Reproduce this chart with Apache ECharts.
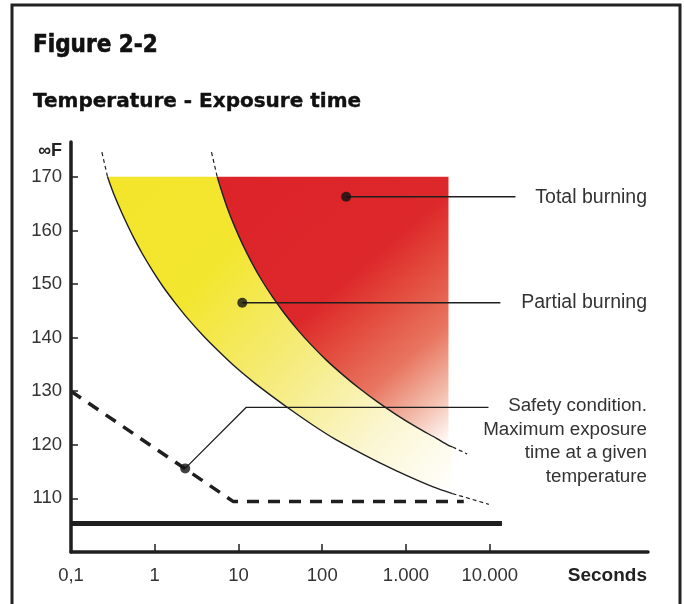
<!DOCTYPE html>
<html>
<head>
<meta charset="utf-8">
<script src="https://cdn.jsdelivr.net/npm/echarts@6/dist/echarts.min.js"></script>
<style>
  html, body { margin: 0; padding: 0; background: #fff; }
  #chart { width: 684px; height: 604px; }
</style>
</head>
<body>
<div id="chart"></div>
<script>
// x: seconds (log), y: degrees F
var xTickValues = [0.1, 1, 10, 100, 1000, 10000];
var xTickLabels = ['0,1', '1', '10', '100', '1.000', '10.000'];
var yTickValues = [110, 120, 130, 140, 150, 160, 170];

// lower curve: start of partial burning  [seconds, F]
var partialCurve = [[0.273, 170], [0.313, 167.4], [0.369, 164.7], [0.447, 161.8], [0.558, 158.7], [0.714, 155.6],
  [0.94, 152.5], [1.27, 149.4], [1.77, 146.4], [2.53, 143.4], [3.72, 140.5], [5.77, 137.5], [9.21, 134.5],
  [15.1, 131.7], [25.5, 129.0], [44.1, 126.3], [78.6, 123.6], [144, 121.0], [271, 118.7], [524, 116.4],
  [1042, 114.2], [2072, 112.2], [3590, 110.9]];
var partialTop = [[0.234, 174.6], [0.273, 170]];
var partialTail = [[3590, 110.9], [9750, 108.9]];

// upper curve: start of total burning
var totalCurve = [[5.57, 170], [6.27, 167.4], [7.39, 164.1], [8.96, 160.8], [11.2, 157.4], [14.3, 154.1],
  [18.8, 150.8], [25.5, 147.6], [35.4, 144.5], [50.6, 141.5], [74.4, 138.6], [112, 135.8], [175, 133.1],
  [279, 130.5], [457, 128.0], [770, 125.6], [1335, 123.3], [2313, 121.2], [3217, 119.9], [3590, 119.6]];
var totalTop = [[4.76, 174.6], [5.57, 170]];
var totalTail = [[3590, 119.6], [5380, 118.3]];

var redRight = 3217;   // right edge of the red zone

var safetyLine = [[0.1, 130], [8.7, 109.4], [4900, 109.4]];
var baseLine = [[0.1, 105.3], [14000, 105.3]];

var totalLeader = [[193, 166.3], [20300, 166.3]];
var partialLeader = [[11.1, 146.5], [13400, 146.5]];
var safetyLeader = [[2.31, 115.6], [12.4, 127.0], [9660, 127.0]];
var dots = [[193, 166.3], [11.1, 146.5], [2.31, 115.6]];

var ink = '#1f1f1f';
var txt = '#333';

function area (points, fill) {
  return {
    type: 'custom',
    silent: true,
    z: 1,
    data: points,
    renderItem: function (params, api) {
      if (params.dataIndex !== 0) return null;
      return {
        type: 'polygon',
        shape: { points: points.map(function (p) { return api.coord(p); }) },
        style: { fill: fill }
      };
    }
  };
}

function line (data, style, extra) {
  var s = {
    type: 'line',
    data: data,
    symbol: 'none',
    silent: true,
    z: 3,
    lineStyle: style
  };
  for (var k in extra) s[k] = extra[k];
  return s;
}

var yellowArea = partialCurve.concat(totalCurve.slice().reverse());
var redArea = totalCurve.filter(function (p) { return p[0] <= redRight; }).concat([[redRight, 170]]);

var yellowFill = {
  type: 'linear', x: 0, y: 0, x2: 1, y2: 1,
  colorStops: [
    { offset: 0, color: '#f3e52b' },
    { offset: 0.3, color: '#f3e62f' },
    { offset: 0.55, color: '#f5eb7a' },
    { offset: 0.8, color: '#fbf6d2' },
    { offset: 1, color: '#ffffff' }
  ]
};
var redFill = {
  type: 'linear', x: 0, y: 0, x2: 1, y2: 1,
  colorStops: [
    { offset: 0, color: '#dc2329' },
    { offset: 0.46, color: '#dd282b' },
    { offset: 0.57, color: '#e2473a' },
    { offset: 0.74, color: '#e87560' },
    { offset: 0.88, color: '#f3bfae' },
    { offset: 0.97, color: '#fdf0ec' },
    { offset: 1, color: '#ffffff' }
  ]
};

var option = {
  animation: false,
  title: [
    { text: 'Figure 2-2', left: 33, top: 34, padding: 0,
      textStyle: { fontFamily: 'DejaVu Sans Condensed', fontWeight: 'bold', fontSize: 24, color: '#111',
        textBorderColor: '#111', textBorderWidth: 0.6 } },
    { text: 'Temperature - Exposure time', left: 33, top: 92, padding: 0,
      textStyle: { fontFamily: 'DejaVu Sans', fontWeight: 'bold', fontSize: 20, color: '#111',
        textBorderColor: '#111', textBorderWidth: 0.4 } }
  ],
  grid: { left: 71, right: 36, top: 142, bottom: 52 },
  xAxis: {
    type: 'log',
    logBase: 10,
    min: 0.1,
    max: 776000,
    axisLine: { lineStyle: { color: ink, width: 3.5 } },
    axisTick: { inside: true, length: 8, customValues: xTickValues, lineStyle: { color: ink, width: 1.5 } },
    axisLabel: {
      customValues: xTickValues,
      margin: 14,
      fontFamily: 'Liberation Sans',
      fontSize: 18.5,
      color: txt,
      formatter: function (v) {
        for (var i = 0; i < xTickValues.length; i++) {
          if (Math.abs(v - xTickValues[i]) < xTickValues[i] * 0.01) return xTickLabels[i];
        }
        return '';
      }
    },
    splitLine: { show: false }
  },
  yAxis: {
    type: 'value',
    min: 100,
    max: 176.5,
    interval: 10,
    axisLine: { show: true, lineStyle: { color: ink, width: 3.5 } },
    axisTick: { show: true, inside: true, length: 7, customValues: yTickValues, lineStyle: { color: ink, width: 1.5 } },
    axisLabel: { customValues: yTickValues, margin: 9, fontFamily: 'Liberation Sans', fontSize: 18.5, color: txt },
    splitLine: { show: false }
  },
  series: [
    area(yellowArea, yellowFill),
    area(redArea, redFill),
    line(partialCurve, { color: ink, width: 1.4 }, { smooth: 0.3 }),
    line(totalCurve, { color: ink, width: 1.4 }, { smooth: 0.3 }),
    line(partialTop, { color: ink, width: 1.2, type: [4, 3] }),
    line(totalTop, { color: ink, width: 1.2, type: [4, 3] }),
    line(partialTail, { color: ink, width: 1.2, type: [4, 3] }),
    line(totalTail, { color: ink, width: 1.2, type: [4, 3] }),
    line(safetyLine, { color: ink, width: 3.5, type: [12, 9] }),
    line(baseLine, { color: ink, width: 5 }),
    line(totalLeader, { color: ink, width: 1.5 }, { z: 4 }),
    line(partialLeader, { color: ink, width: 1.5 }, { z: 4 }),
    line(safetyLeader, { color: ink, width: 1.3 }, { z: 4 }),
    { type: 'scatter', data: dots, symbolSize: 10, z: 5, silent: true, itemStyle: { color: '#111' } }
  ],
  graphic: [
    { type: 'rect', shape: { x: 12, y: 5, width: 668, height: 650 },
      style: { fill: 'none', stroke: '#222', lineWidth: 3 }, z: 10 },
    { type: 'text', x: 62, y: 151,
      style: { text: '∞F', align: 'right', verticalAlign: 'middle', fill: '#222',
        font: 'bold 18px "Liberation Sans"' } },
    { type: 'text', x: 647, y: 576,
      style: { text: 'Seconds', align: 'right', verticalAlign: 'middle', fill: '#222',
        font: 'bold 19px "Liberation Sans"' } },
    { type: 'text', x: 647, y: 198,
      style: { text: 'Total burning', align: 'right', verticalAlign: 'middle', fill: txt,
        font: '19.5px "Liberation Sans"' } },
    { type: 'text', x: 647, y: 303,
      style: { text: 'Partial burning', align: 'right', verticalAlign: 'middle', fill: txt,
        font: '19.5px "Liberation Sans"' } },
    { type: 'text', x: 647, y: 394,
      style: { text: 'Safety condition.\nMaximum exposure\ntime at a given\ntemperature', align: 'right',
        verticalAlign: 'top', lineHeight: 23.7, fill: txt, font: '18.8px "Liberation Sans"' } }
  ]
};

var chart = echarts.init(document.getElementById('chart'));
chart.setOption(option);
window.addEventListener('resize', function () { chart.resize(); });
</script>
</body>
</html>
